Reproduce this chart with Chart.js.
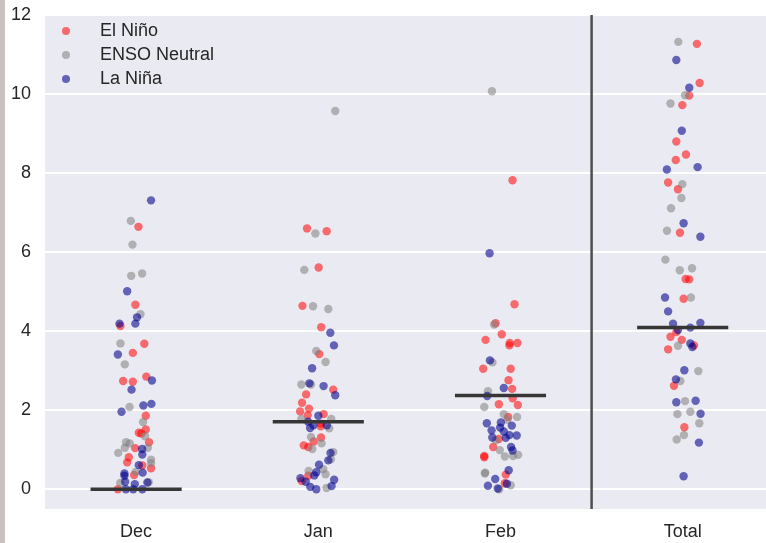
<!DOCTYPE html>
<html>
<head>
<meta charset="utf-8">
<script src="https://cdn.jsdelivr.net/npm/chart.js@4/dist/chart.umd.min.js"></script>
<style>
  body { margin: 0; background: #fff; overflow: hidden; }
  #wrap { position: absolute; left: 0; top: 0; width: 778px; height: 543px; }
  #strip { position: absolute; left: 0; top: 0; width: 5px; height: 543px; background: #c9c2bf; }
</style>
</head>
<body>
<div id="wrap"><canvas id="chart"></canvas></div>
<div id="strip"></div>
<script>
const categories = ['Dec', 'Jan', 'Feb', 'Total']
const yTicks = [0, 2, 4, 6, 8, 10, 12]
const medians = [0, 1.71, 2.37, 4.09]
const separatorX = 2.5

// El Niño
const ninoDec = [6.64, 4.67, 4.13, 3.68, 3.45, 2.85, 2.74, 2.72, 1.86, 1.51, 1.43, 1.41, 1.19, 1.04, 0.81, 0.68, 0.60, 0.53, 0.36, 0.0]
const ninoDecJitter = [0.013, -0.004, -0.086, 0.045, -0.018, 0.056, -0.071, -0.018, 0.053, 0.053, 0.015, 0.029, 0.071, -0.005, -0.04, -0.049, 0.034, 0.082, -0.011, -0.1]
const ninoJan = [6.60, 6.53, 5.61, 4.64, 4.10, 3.42, 2.52, 2.40, 2.19, 2.04, 1.97, 1.87, 1.90, 1.66, 1.59, 1.31, 1.21, 1.11, 1.07, 0.34, 0.21]
const ninoJanJitter = [-0.062, 0.046, 0.002, -0.087, 0.016, 0.005, 0.082, -0.067, -0.089, -0.051, -0.1, -0.058, 0.029, 0.015, 0.013, 0.015, -0.025, -0.08, -0.055, -0.055, -0.091]
const ninoFeb = [7.82, 4.68, 4.20, 3.92, 3.78, 3.70, 3.64, 3.70, 3.05, 3.05, 2.76, 2.54, 2.30, 2.15, 2.13, 1.83, 1.27, 1.07, 0.84, 0.81, 0.37, 0.15]
const ninoFebJitter = [0.066, 0.077, -0.027, 0.007, -0.082, 0.051, 0.049, 0.093, -0.095, 0.056, 0.044, 0.064, 0.067, -0.009, 0.095, 0.042, -0.009, -0.04, -0.089, -0.089, 0.029, 0.024]
const ninoTotal = [11.27, 10.28, 9.96, 9.72, 8.80, 8.47, 8.33, 7.76, 7.59, 6.49, 5.32, 5.31, 4.82, 3.98, 3.86, 3.78, 3.54, 3.64, 2.62, 1.57]
const ninoTotalJitter = [0.078, 0.093, 0.036, -0.002, -0.035, 0.018, -0.038, -0.08, -0.026, -0.015, 0.016, 0.036, 0.005, -0.035, -0.067, -0.005, -0.08, 0.062, -0.048, 0.009]

// ENSO Neutral
const neutralDec = [6.79, 6.19, 5.40, 5.46, 4.43, 3.69, 3.16, 2.08, 1.70, 1.34, 1.19, 1.16, 1.05, 1.05, 0.92, 0.75, 0.66, 0.44, 0.16, 0.18]
const neutralDecJitter = [-0.029, -0.02, -0.027, 0.033, 0.024, -0.086, -0.062, -0.036, 0.038, 0.049, -0.055, -0.035, -0.062, 0.064, -0.098, 0.082, 0.082, -0.002, -0.087, 0.069]
const neutralJan = [9.57, 6.47, 5.55, 4.63, 4.56, 3.50, 3.22, 2.65, 2.65, 1.78, 1.78, 1.54, 1.32, 1.16, 1.02, 0.94, 0.76, 0.46, 0.51, 0.38, 0.03]
const neutralJanJitter = [0.093, -0.016, -0.077, -0.029, 0.055, -0.011, 0.04, -0.093, -0.04, -0.093, 0.071, 0.06, -0.04, 0.018, -0.033, 0.082, 0.069, -0.053, 0.027, 0.04, 0.045]
const neutralFeb = [10.07, 4.17, 3.21, 2.48, 2.08, 1.90, 1.83, 1.76, 1.24, 0.99, 0.87, 0.84, 0.83, 0.42, 0.40, 0.10, 0.0]
const neutralFebJitter = [-0.047, -0.035, -0.044, -0.069, -0.089, 0.018, 0.091, 0.038, -0.026, -0.004, 0.097, 0.069, 0.024, -0.084, -0.086, 0.056, -0.007]
const neutralTotal = [11.32, 9.97, 9.76, 7.72, 7.37, 7.11, 6.54, 5.81, 5.54, 5.59, 4.85, 3.63, 2.99, 2.74, 2.23, 1.90, 1.96, 1.67, 1.37, 1.26]
const neutralTotalJitter = [-0.024, 0.013, -0.067, -0.002, -0.007, -0.064, -0.086, -0.095, -0.016, 0.051, 0.045, -0.026, 0.086, -0.013, 0.013, -0.029, 0.042, 0.091, 0.007, -0.033]

// La Niña
const ninaDec = [7.31, 5.01, 4.35, 4.19, 4.19, 3.41, 2.75, 2.52, 1.96, 2.12, 2.16, 1.02, 0.88, 0.61, 0.42, 0.40, 0.34, 0.19, 0.13, 0.17, 0.0, 0.0, 0.0]
const ninaDecJitter = [0.082, -0.049, 0.005, -0.091, -0.004, -0.1, 0.087, -0.025, -0.08, 0.04, 0.084, 0.033, 0.034, 0.015, 0.036, -0.064, -0.064, -0.06, -0.007, 0.062, -0.056, -0.016, 0.034]
const ninaJan = [3.96, 3.64, 3.06, 2.68, 2.61, 2.38, 1.86, 1.71, 1.62, 1.55, 1.62, 0.92, 0.73, 0.62, 0.43, 0.35, 0.28, 0.19, 0.24, 0.08, 0.06, 0.0]
const ninaJanJitter = [0.066, 0.086, -0.034, -0.049, 0.029, 0.093, 0, -0.056, 0.047, -0.045, -0.027, 0.067, 0.055, 0.004, -0.011, -0.022, -0.098, -0.069, 0.087, 0.073, -0.044, -0.011]
const ninaFeb = [5.97, 3.26, 2.56, 2.36, 1.67, 1.69, 1.61, 1.56, 1.49, 1.46, 1.36, 1.37, 1.31, 1.30, 1.07, 0.98, 0.48, 0.26, 0.09, 0.14, 0.02]
const ninaFebJitter = [-0.06, -0.058, 0.018, -0.073, -0.075, 0.002, 0.062, -0.002, -0.049, 0.018, 0.089, 0.049, -0.045, 0.029, 0.058, 0.066, 0.045, -0.029, -0.069, 0.035, -0.015]
const ninaTotal = [10.86, 10.16, 9.07, 8.09, 8.15, 6.73, 6.39, 4.85, 4.50, 4.19, 4.21, 4.09, 4.03, 3.69, 3.60, 3.01, 2.78, 2.20, 2.24, 1.91, 1.18, 0.33]
const ninaTotalJitter = [-0.035, 0.036, -0.005, -0.087, 0.082, 0.005, 0.097, -0.097, -0.08, -0.053, 0.097, 0.042, -0.026, 0.042, 0.053, 0.009, -0.037, -0.035, 0.071, 0.098, 0.089, 0.005]

const ninoColor = 'rgba(255, 0, 0, 0.55)'
const neutralColor = 'rgba(128, 128, 128, 0.55)'
const ninaColor = 'rgba(0, 0, 139, 0.58)'

// mettre les valeurs d'une série sur l'axe x (catégorie + jitter)
const toPoints = (values, jitters) => values.flatMap((vals, c) =>
    vals.map((v, i) => ({ x: c + jitters[c][i], y: v })))

const pointSet = (label, color, values, jitters, order) => ({
    label,
    data: toPoints(values, jitters),
    backgroundColor: color,
    borderWidth: 0,
    pointRadius: 4.2,
    order
})

const medianSets = medians.map((m, c) => ({
    data: [{ x: c - 0.25, y: m }, { x: c + 0.25, y: m }],
    showLine: true,
    borderColor: '#363636',
    borderWidth: 3.5,
    pointRadius: 0,
    order: 0
}))

const separatorSet = {
    data: [{ x: separatorX, y: -0.5 }, { x: separatorX, y: 12 }],
    showLine: true,
    borderColor: '#4e4e4e',
    borderWidth: 2.5,
    pointRadius: 0,
    order: 1
}

const series = [
    pointSet('El Niño', ninoColor, [ninoDec, ninoJan, ninoFeb, ninoTotal],
        [ninoDecJitter, ninoJanJitter, ninoFebJitter, ninoTotalJitter], 4),
    pointSet('ENSO Neutral', neutralColor, [neutralDec, neutralJan, neutralFeb, neutralTotal],
        [neutralDecJitter, neutralJanJitter, neutralFebJitter, neutralTotalJitter], 3),
    pointSet('La Niña', ninaColor, [ninaDec, ninaJan, ninaFeb, ninaTotal],
        [ninaDecJitter, ninaJanJitter, ninaFebJitter, ninaTotalJitter], 2)
]

// fond gris-bleu de la zone du graphique
const background = {
    id: 'background',
    beforeDraw: (chart) => {
        const { ctx, chartArea: a } = chart
        ctx.save()
        ctx.fillStyle = '#eaeaf2'
        ctx.fillRect(a.left, a.top, a.right - a.left, a.bottom - a.top)
        ctx.restore()
    }
}

// légende dans le coin en haut à gauche
const legendBox = {
    id: 'legendBox',
    afterDraw: (chart) => {
        const { ctx } = chart
        ctx.save()
        ctx.font = '18px "Liberation Sans", Arial, sans-serif'
        ctx.textBaseline = 'middle'
        series.forEach((s, i) => {
            const y = 31 + i * 24
            ctx.fillStyle = s.backgroundColor
            ctx.beginPath()
            ctx.arc(66, y, 4, 0, Math.PI * 2)
            ctx.fill()
            ctx.fillStyle = '#262626'
            ctx.fillText(s.label, 100, y)
        })
        ctx.restore()
    }
}

new Chart(document.getElementById('chart'), {
    type: 'scatter',
    data: {
        datasets: [...medianSets, separatorSet, ...series]
    },
    options: {
        responsive: true,
        maintainAspectRatio: false,
        animation: false,
        layout: { padding: { top: 15, left: 0, right: 0, bottom: 0 } },
        plugins: {
            legend: { display: false },
            tooltip: { enabled: false }
        },
        scales: {
            x: {
                type: 'linear',
                min: -0.5,
                max: 3.5,
                afterBuildTicks: (scale) => {
                    scale.ticks = categories.map((_, i) => ({ value: i }))
                },
                afterFit: (scale) => { scale.height = 34 },
                ticks: {
                    callback: (v) => categories[v],
                    color: '#262626',
                    font: { family: '"Liberation Sans", Arial, sans-serif', size: 18 },
                    padding: 4,
                    maxRotation: 0
                },
                grid: { display: false },
                border: { display: false }
            },
            y: {
                min: -0.5,
                max: 12,
                afterBuildTicks: (scale) => {
                    scale.ticks = yTicks.map(v => ({ value: v }))
                },
                afterFit: (scale) => {
                    scale.width = 45
                    scale.paddingTop = 0
                    scale.paddingBottom = 0
                },
                ticks: {
                    color: '#262626',
                    font: { family: '"Liberation Sans", Arial, sans-serif', size: 18 },
                    padding: 14
                },
                grid: { color: '#ffffff', lineWidth: 2, drawTicks: false },
                border: { display: false }
            }
        }
    },
    plugins: [background, legendBox]
})
</script>
</body>
</html>
